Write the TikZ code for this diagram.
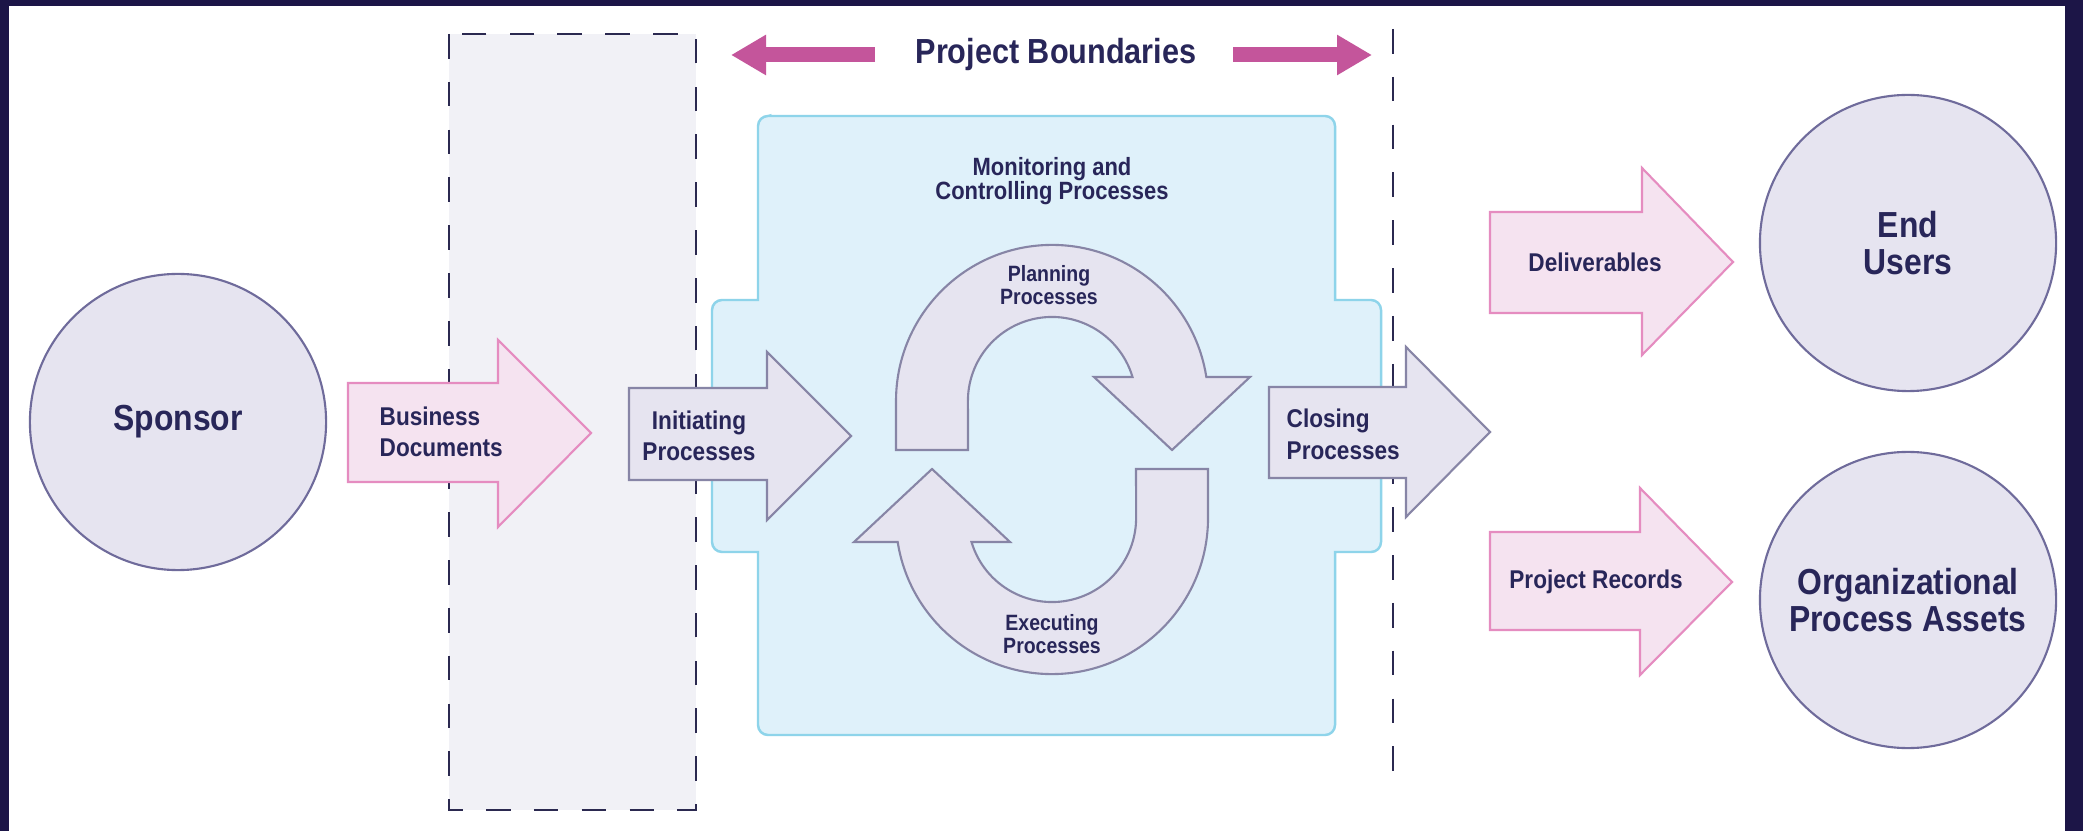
\documentclass[tikz,border=0pt]{standalone}
\usepackage{fontspec}
\newfontfamily\cond{Liberation Sans}[FakeStretch=0.88]
\usetikzlibrary{arrows.meta}
\definecolor{framecol}{HTML}{1C1547}
\definecolor{textcol}{HTML}{282659}
\definecolor{circfill}{HTML}{E6E4F0}
\definecolor{circdraw}{HTML}{6F6B9B}
\definecolor{pinkfill}{HTML}{F5E3F0}
\definecolor{pinkdraw}{HTML}{E58CC0}
\definecolor{procfill}{HTML}{E6E4F0}
\definecolor{procdraw}{HTML}{8785A6}
\definecolor{bluefill}{HTML}{DFF1FA}
\definecolor{bluedraw}{HTML}{8ED4EA}
\definecolor{dashfill}{HTML}{F1F1F6}
\definecolor{dashdraw}{HTML}{2B2950}
\definecolor{pbcol}{HTML}{C4559B}
\newcommand\fsCircle{\fontsize{10.3pt}{10.6pt}\selectfont}
\newcommand\fsPB{\fontsize{9.9pt}{11pt}\selectfont}
\newcommand\fsArrow{\fontsize{7.3pt}{9pt}\selectfont}
\newcommand\fsMon{\fontsize{7.1pt}{6.9pt}\selectfont}
\newcommand\fsSmall{\fontsize{6.3pt}{6.5pt}\selectfont}
\begin{document}
\begin{tikzpicture}[x=0.01cm,y=-0.01cm,
  lbl/.style={text=textcol, inner sep=0pt, font=\cond\bfseries},
  circ/.style={circle, draw=circdraw, fill=circfill, line width=0.6pt,
    minimum size=2.96cm, inner sep=0pt, align=center, text=textcol,
    font=\cond\bfseries\fsCircle},
  pinkarrow/.style={fill=pinkfill, draw=pinkdraw, line width=0.6pt, line join=miter},
  procarrow/.style={fill=procfill, draw=procdraw, line width=0.6pt, line join=miter},
  dashbox/.style={draw=dashdraw, line width=0.7pt, dash pattern=on 7pt off 6.6pt},
  pbarrow/.style={draw=pbcol, line width=0.15cm, -{Triangle[length=0.35cm,width=0.38cm]}},
  bluebox/.style={fill=bluefill, draw=bluedraw, line width=0.7pt}
]
\useasboundingbox (0,0) rectangle (2083,831);
% frame
\fill[framecol] (0,0) rectangle (2083,831);
\fill[white] (9,6) rectangle (2065,831);

% dashed box
\fill[dashfill] (449,34) rectangle (696,810);
\draw[dashbox] (449,34) rectangle (696,810);

% project boundary line
\coordinate (bt) at (1393,29);
\coordinate (bb) at (1393,794);
\draw[dashbox] (bt) -- (bb);

% monitoring and controlling box (outer corners rounded, inner corners sharp)
\draw[bluebox] (768,116) -- (1325,116) arc[start angle=90, end angle=0, radius=0.1cm]
  -- (1335,300) -- (1371,300) arc[start angle=90, end angle=0, radius=0.1cm]
  -- (1381,542) arc[start angle=0, end angle=-90, radius=0.1cm]
  -- (1335,552) -- (1335,725) arc[start angle=0, end angle=-90, radius=0.1cm]
  -- (768,735) arc[start angle=-90, end angle=-180, radius=0.1cm]
  -- (758,552) -- (722,552) arc[start angle=-90, end angle=-180, radius=0.1cm]
  -- (712,310) arc[start angle=180, end angle=90, radius=0.1cm]
  -- (758,300) -- (758,126) arc[start angle=180, end angle=90, radius=0.1cm]
  -- cycle;

% planning loop arrow
\draw[procarrow] (896,450) -- (896,401) arc[start angle=180, end angle=8.85, radius=1.56cm]
  -- (1250,377) -- (1172,450) -- (1094,377) -- (1132.5,377)
  arc[start angle=16.6, end angle=180, radius=0.84cm] -- (968,450) -- cycle;
% executing loop arrow
\draw[procarrow] (1208,469) -- (1208,518) arc[start angle=0, end angle=-171.15, radius=1.56cm]
  -- (854,542) -- (932,469) -- (1010,542) -- (971.5,542)
  arc[start angle=-163.4, end angle=0, radius=0.84cm] -- (1136,469) -- cycle;

% business documents arrow
\draw[pinkarrow] (348,383) -- (498,383) -- (498,340) -- (591,433) -- (498,527)
  -- (498,482) -- (348,482) -- cycle;
% initiating arrow
\draw[procarrow] (629,388) -- (767,388) -- (767,352) -- (851,436) -- (767,520)
  -- (767,480) -- (629,480) -- cycle;
% closing arrow
\draw[procarrow] (1269,387) -- (1406,387) -- (1406,347) -- (1490,432) -- (1406,517)
  -- (1406,478) -- (1269,478) -- cycle;
% deliverables arrow
\draw[pinkarrow] (1490,212) -- (1642,212) -- (1642,168) -- (1733,262) -- (1642,355)
  -- (1642,313) -- (1490,313) -- cycle;
% project records arrow
\draw[pinkarrow] (1490,532) -- (1640,532) -- (1640,488) -- (1732,582) -- (1640,675)
  -- (1640,630) -- (1490,630) -- cycle;

% circles
\node[circ] (sponsor) at (178,422) {Sponsor};
\node[circ] (endusers) at (1908,243) {End\\Users};
\node[circ] (opa) at (1908,600) {Organizational\\Process Assets};

% project boundaries
\node[lbl, font=\cond\bfseries\fsPB] (pb) at (1056,55) {Project Boundaries};
\coordinate (pbLs) at (875,55);
\coordinate (pbLe) at (731,55);
\coordinate (pbRs) at (1233,55);
\coordinate (pbRe) at (1372,55);
\draw[pbarrow] (pbLs) -- (pbLe);
\draw[pbarrow] (pbRs) -- (pbRe);

% labels
\node[lbl, font=\cond\bfseries\fsArrow, align=left, anchor=west] (bd) at (379,432) {Business\\Documents};
\node[lbl, font=\cond\bfseries\fsArrow, align=center] (init) at (699,436) {Initiating\\Processes};
\node[lbl, font=\cond\bfseries\fsArrow, align=left, anchor=west] (clos) at (1286,434) {Closing\\Processes};
\node[lbl, font=\cond\bfseries\fsArrow] (deliv) at (1595,262) {Deliverables};
\node[lbl, font=\cond\bfseries\fsArrow] (precs) at (1596,582) {Project Records};
\node[lbl, font=\cond\bfseries\fsMon, align=center] (mon) at (1052,181) {Monitoring and\\Controlling Processes};
\node[lbl, font=\cond\bfseries\fsSmall, align=center] (plan) at (1049,285) {Planning\\Processes};
\node[lbl, font=\cond\bfseries\fsSmall, align=center] (exec) at (1052,634) {Executing\\Processes};
\end{tikzpicture}
\end{document}
